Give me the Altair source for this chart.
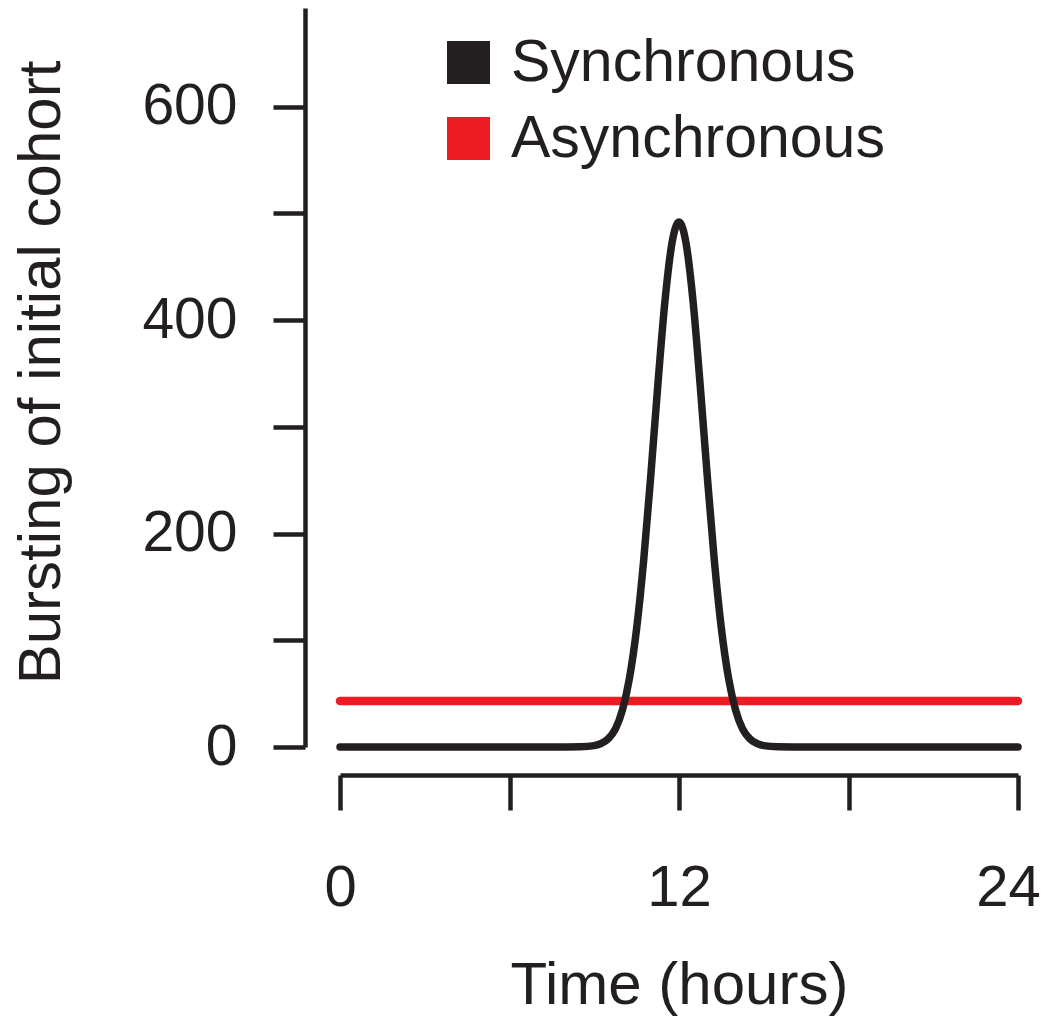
import altair as alt
import pandas as pd

# Synchronous bursting curve
sync_time = [0, 8.0, 8.5, 9.0, 9.25, 9.5, 9.75, 10.0, 10.25, 10.5, 10.75, 11.0, 11.25, 11.5, 11.75,
             12.0, 12.25, 12.5, 12.75, 13.0, 13.25, 13.5, 13.75, 14.0, 14.25, 14.5, 14.75, 15.0, 15.5, 16.0, 24]
sync_value = [0, 0, 0.15, 1.3, 3.3, 7.9, 17, 35, 65, 111, 175, 254, 339, 417, 472,
              492, 472, 417, 339, 254, 175, 111, 65, 35, 17, 7.9, 3.3, 1.3, 0.15, 0, 0]
# Asynchronous bursting (flat)
async_time = [0, 24]
async_value = [43, 43]

series_names = ["Synchronous", "Asynchronous"]
series_colors = ["#231f20", "#ed1c24"]

df_sync = pd.DataFrame({"t": sync_time, "v": sync_value})
df_async = pd.DataFrame({"t": async_time, "v": async_value})
df_leg = pd.DataFrame({"s": series_names})

FONT = "Liberation Sans"
INK = "#231f20"

x_enc = alt.X("t:Q",
              scale=alt.Scale(domain=[0, 24], nice=False, zero=False),
              axis=alt.Axis(values=[0, 6, 12, 18, 24],
                            labelExpr="datum.value % 12 == 0 ? datum.label : ''",
                            labelOffset={"condition": {"test": "datum.value == 24", "value": -10}, "value": 0},
                            title="Time (hours)", offset=28, tickSize=35,
                            labelPadding=95, labelBaseline="alphabetic",
                            labelFontSize=58, titleFontSize=60, titleFontWeight="normal",
                            titleBaseline="alphabetic", titleY=228, titleX=339,
                            grid=False, domainWidth=4.5, tickWidth=4.5,
                            domainColor=INK, tickColor=INK,
                            labelColor=INK, titleColor=INK,
                            labelFont=FONT, titleFont=FONT, labelFlush=False))
y_enc = alt.Y("v:Q",
              scale=alt.Scale(domain=[0, 692.5], nice=False, zero=True),
              axis=alt.Axis(values=[0, 100, 200, 300, 400, 500, 600],
                            labelExpr="datum.value % 200 == 0 ? datum.label : ''",
                            title="Bursting of initial cohort", offset=35, tickSize=32,
                            labelPadding=36, labelFontSize=57, titleFontSize=60,
                            titleFontWeight="normal", titleAngle=270,
                            titleBaseline="alphabetic", titleX=-246, titleY=364,
                            grid=False, domainWidth=4.5, tickWidth=4.5,
                            domainColor=INK, tickColor=INK,
                            labelColor=INK, titleColor=INK,
                            labelFont=FONT, titleFont=FONT, labelFlush=False))

line_async = alt.Chart(df_async).mark_line(
    strokeWidth=8.5, strokeCap="round", color=series_colors[1]
).encode(x=x_enc, y=y_enc)

line_sync = alt.Chart(df_sync).mark_line(
    strokeWidth=7.5, strokeCap="round", color=series_colors[0], interpolate="monotone"
).encode(x=x_enc, y=y_enc)

legend_layer = alt.Chart(df_leg).mark_square(size=0, opacity=1).encode(
    fill=alt.Fill("s:N", scale=alt.Scale(domain=series_names, range=series_colors),
                  legend=alt.Legend(title=None, orient="none", legendX=99, legendY=25,
                                    symbolType="square", symbolSize=1849, symbolStrokeWidth=0,
                                    symbolOpacity=1,
                                    labelFontSize=59, labelFont=FONT, labelColor=INK,
                                    labelOffset=13, rowPadding=16, padding=0,
                                    labelLimit=600))
)

chart = alt.layer(line_async, line_sync, legend_layer).properties(
    width=678, height=739,
    autosize=alt.AutoSizeParams(type="none"),
    padding={"left": 332, "top": 0, "right": 24, "bottom": 270},
).configure_view(stroke=None)

chart.save("out.html", embed_options={"renderer": "svg", "actions": False})
